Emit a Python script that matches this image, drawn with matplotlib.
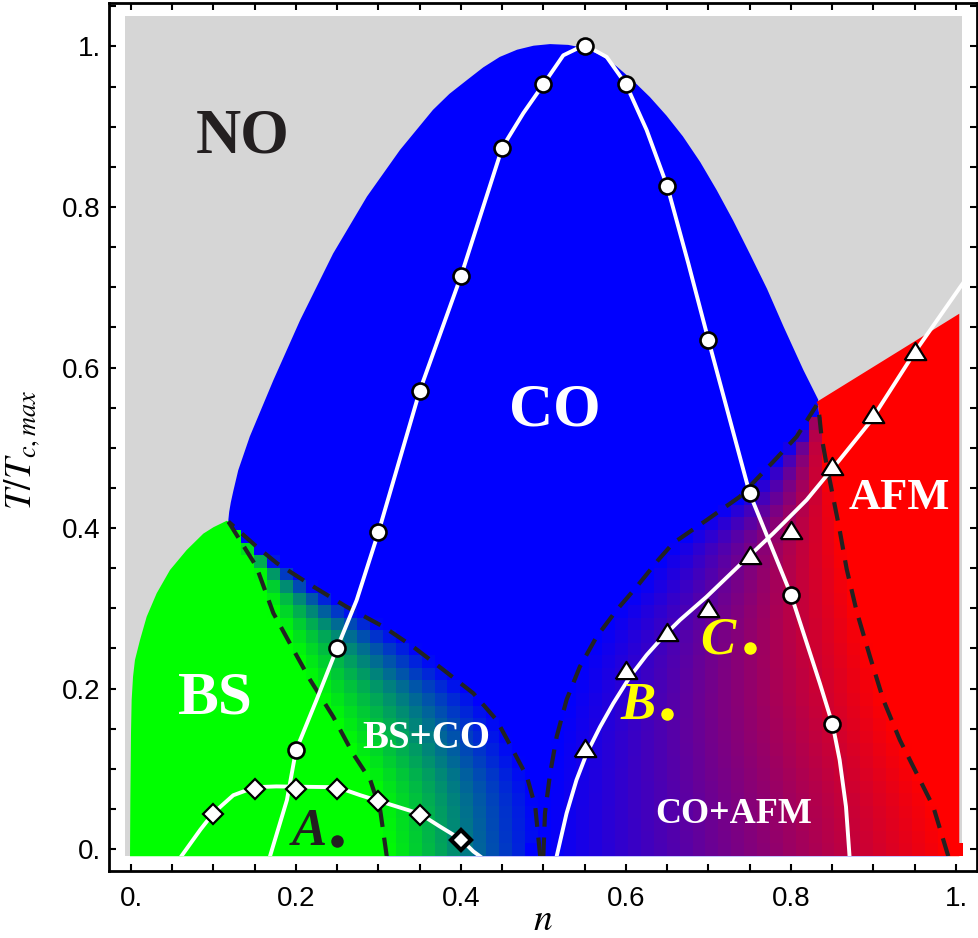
import numpy as np
import matplotlib
matplotlib.use('Agg')
import matplotlib.pyplot as plt
from matplotlib.patches import Rectangle, Polygon
from matplotlib.ticker import FixedLocator, MultipleLocator

plt.rcParams['mathtext.fontset'] = 'stix'

# ---- data: n (filling), T/Tc,max ----
# outer edge of the CO dome (left foot -> apex -> meets AFM)
dome_n = [0.118, 0.119, 0.121, 0.124, 0.13, 0.144, 0.1725, 0.205, 0.245, 0.286, 0.326, 0.366, 0.386, 0.407,
          0.427, 0.447, 0.468, 0.488, 0.508, 0.53, 0.55, 0.57, 0.589, 0.609, 0.629, 0.649, 0.669, 0.690,
          0.710, 0.730, 0.750, 0.771, 0.791, 0.815, 0.833]
dome_t = [0.41, 0.42, 0.432, 0.446, 0.472, 0.514, 0.584, 0.659, 0.742, 0.813, 0.871, 0.921, 0.941, 0.958,
          0.974, 0.987, 0.996, 1.001, 1.003, 1.002, 0.998, 0.989, 0.975, 0.957, 0.937, 0.914, 0.888, 0.856,
          0.821, 0.783, 0.742, 0.698, 0.651, 0.597, 0.560]

# left edge of the BS region
bs_edge_n = [-0.0012, -0.0008, 0.0, 0.0008, 0.0025, 0.0048, 0.0109, 0.019, 0.0311, 0.0473, 0.0675, 0.0877,
             0.10, 0.116]
bs_edge_t = [-0.009, 0.061, 0.144, 0.186, 0.215, 0.2355, 0.2604, 0.2895, 0.3186, 0.3477, 0.3726, 0.393,
             0.401, 0.409]

# top edge of AFM region
afm_top_n = [0.831, 1.004]
afm_top_t = [0.557, 0.667]

# dashed boundaries (ordered by rising T)
d1_n = [0.310, 0.302, 0.290, 0.269, 0.245, 0.217, 0.197, 0.1725, 0.152, 0.118]
d1_t = [-0.009, 0.049, 0.086, 0.119, 0.165, 0.211, 0.248, 0.294, 0.352, 0.408]
d2_n = [0.496, 0.490, 0.480, 0.463, 0.443, 0.415, 0.379, 0.342, 0.306, 0.261, 0.221, 0.177, 0.152, 0.118]
d2_t = [-0.009, 0.053, 0.090, 0.123, 0.161, 0.194, 0.223, 0.252, 0.277, 0.302, 0.327, 0.356, 0.377, 0.408]
d3_n = [0.4998, 0.5018, 0.508, 0.516, 0.528, 0.544, 0.5645, 0.5887, 0.613, 0.639, 0.657, 0.698, 0.738,
        0.7785, 0.807, 0.831]
d3_t = [-0.009, 0.0445, 0.094, 0.140, 0.186, 0.227, 0.2646, 0.2978, 0.3268, 0.360, 0.381, 0.410, 0.439,
        0.4826, 0.514, 0.553]
d4_n = [0.9907, 0.9725, 0.9523, 0.932, 0.912, 0.8958, 0.8797, 0.8675, 0.859, 0.851, 0.843, 0.837, 0.833]
d4_t = [-0.009, 0.0527, 0.0943, 0.1358, 0.1857, 0.2396, 0.2958, 0.349, 0.3975, 0.439, 0.48, 0.514, 0.553]

# CO transition (circles)
co_line_n = [0.1685, 0.189, 0.2, 0.225, 0.25, 0.2735, 0.3, 0.35, 0.4, 0.45, 0.4756, 0.5, 0.524, 0.55,
             0.5766, 0.6, 0.625, 0.65, 0.6755, 0.7, 0.75, 0.8, 0.835, 0.8505, 0.859, 0.8667, 0.871]
co_line_t = [-0.009, 0.061, 0.123, 0.186, 0.251, 0.310, 0.395, 0.571, 0.714, 0.874, 0.917, 0.953, 0.989, 1.002,
             0.987, 0.953, 0.896, 0.826, 0.730, 0.634, 0.443, 0.317, 0.2065, 0.155, 0.111, 0.0527, -0.009]
circ_n = [0.2, 0.25, 0.3, 0.35, 0.4, 0.45, 0.5, 0.55, 0.6, 0.65, 0.7, 0.75, 0.8, 0.85]
circ_t = [0.123, 0.251, 0.395, 0.571, 0.714, 0.874, 0.953, 1.0, 0.953, 0.826, 0.634, 0.443, 0.317, 0.156]

# BS transition (diamonds)
bs_line_n = [0.061, 0.084, 0.1, 0.124, 0.15, 0.176, 0.25, 0.278, 0.3, 0.35, 0.3745, 0.4, 0.415, 0.423]
bs_line_t = [-0.009, 0.024, 0.045, 0.067, 0.077, 0.078, 0.077, 0.067, 0.060, 0.044, 0.028, 0.012, -0.003, -0.009]
diam_n = [0.1, 0.15, 0.2, 0.25, 0.3, 0.35, 0.4]
diam_t = [0.044, 0.075, 0.075, 0.075, 0.060, 0.043, 0.011]

# AFM transition (triangles)
afm_line_n = [0.516, 0.528, 0.540, 0.5524, 0.5685, 0.5846, 0.6048, 0.625, 0.645, 0.6655, 0.6978, 0.738,
              0.7785, 0.819, 0.859, 0.8958, 0.95, 1.005, 1.012]
afm_line_t = [-0.009, 0.0445, 0.086, 0.119, 0.152, 0.1815, 0.2146, 0.2417, 0.2646, 0.2854, 0.3144, 0.354,
              0.3934, 0.435, 0.485, 0.532, 0.619, 0.700, 0.710]
tri_n = [0.55, 0.6, 0.65, 0.7, 0.75, 0.8, 0.85, 0.9, 0.95]
tri_t = [0.1255, 0.223, 0.270, 0.300, 0.366, 0.3975, 0.477, 0.542, 0.621]

# marked points A, B, C
pt_n = [0.25, 0.65, 0.75]
pt_t = [0.0104, 0.168, 0.2505]
pt_lab = ['A', 'B', 'C']
pt_lab_xy = [(0.216, 0.005), (0.6145, 0.162), (0.711, 0.244)]
pt_col = ['#231f20', '#ffff00', '#ffff00']

xticks = [0, 0.2, 0.4, 0.6, 0.8, 1.0]
xtick_labels = ['0.', '0.2', '0.4', '0.6', '0.8', '1.']
yticks = [0, 0.2, 0.4, 0.6, 0.8, 1.0]
ytick_labels = ['0.', '0.2', '0.4', '0.6', '0.8', '1.']

GREEN = (0, 1, 0)
BLUE = (0, 0, 1)
RED = (1, 0, 0)

fig = plt.figure(figsize=(9.79, 9.38), dpi=100)
ax = fig.add_axes([109 / 979, 67 / 938, 868 / 979, 868 / 938])
ax.set_xlim(-0.02667, 1.0255)
ax.set_ylim(-0.0274, 1.0542)

# plot region (NO phase)
x0, x1, y0, y1 = -0.0075, 1.0075, -0.009, 1.038
region = Rectangle((x0, y0), x1 - x0, y1 - y0, facecolor='#d6d6d6', edgecolor='none', zorder=0)
ax.add_patch(region)

# CO dome, down to the bottom
dome_poly = (list(zip(dome_n, dome_t)) + list(zip(d4_n[::-1], d4_t[::-1]))
             + list(zip(d1_n, d1_t)))
ax.add_patch(Polygon(dome_poly, closed=True, facecolor=BLUE, edgecolor='none', zorder=1))

# BS region
bs_poly = list(zip(bs_edge_n, bs_edge_t)) + list(zip(d1_n[::-1], d1_t[::-1]))
ax.add_patch(Polygon(bs_poly, closed=True, facecolor=GREEN, edgecolor='none', zorder=1.1))

# AFM region
afm_poly = list(zip(afm_top_n, afm_top_t)) + [(1.004, y0)] + list(zip(d4_n, d4_t))
ax.add_patch(Polygon(afm_poly, closed=True, facecolor=RED, edgecolor='none', zorder=1.2))

# coexistence regions, coarse raster like the original density plot
h = 1 / 64
xe = x0 + h * np.arange(66)
ye = y0 + h * np.arange(38)
X, Y = np.meshgrid((xe[:-1] + xe[1:]) / 2, (ye[:-1] + ye[1:]) / 2)
rgba = np.zeros(X.shape + (4,))

a = np.interp(Y, d1_t, d1_n)
b = np.interp(Y, d2_t, d2_n)
f = np.clip((X - a) / np.maximum(b - a, 1e-6), 0, 1)
m = (X > a - h) & (X < b + h) & (Y + h / 2 <= 0.405)
rgba[m] = np.stack([np.zeros_like(f), 1 - f, f, np.ones_like(f)], axis=-1)[m]

c = np.interp(Y, d3_t, d3_n)
d = np.interp(Y, d4_t, d4_n)
g = np.clip((X - c) / np.maximum(d - c, 1e-6), 0, 1)
m2 = (X > c - h) & (X < d + h) & (Y + h / 2 <= 0.553)
rgba[m2] = np.stack([g, np.zeros_like(g), 1 - g, np.ones_like(g)], axis=-1)[m2]

im = ax.imshow(rgba, origin='lower', extent=(xe[0], xe[-1], ye[0], ye[-1]),
               interpolation='nearest', aspect='auto', zorder=1.5)
im.set_clip_path(region)

# dashed boundaries
for dn, dt in [(d1_n, d1_t), (d2_n, d2_t), (d3_n, d3_t), (d4_n, d4_t)]:
    ln, = ax.plot(dn, dt, color='#222222', lw=3, ls=(0, (4.5, 2.6)), zorder=2)
    ln.set_clip_path(region)

# white transition lines
for ln_n, ln_t in [(co_line_n, co_line_t), (bs_line_n, bs_line_t), (afm_line_n, afm_line_t)]:
    ln, = ax.plot(ln_n, ln_t, color='white', lw=2.8, zorder=3, solid_joinstyle='round')
    ln.set_clip_path(region)

ax.plot(circ_n, circ_t, ls='none', marker='o', ms=11.5, mfc='white', mec='black', mew=1.9, zorder=4)
ax.plot(diam_n[:-1], diam_t[:-1], ls='none', marker='D', ms=10.5, mfc='white', mec='black', mew=1.6, zorder=4)
ax.plot(diam_n[-1:], diam_t[-1:], ls='none', marker='D', ms=10.5, mfc='white', mec='black', mew=3, zorder=4)
tri = [(-1, -0.8), (1, -0.8), (0, 0.8), (-1, -0.8)]
ax.plot(tri_n, tri_t, ls='none', marker=tri, ms=15.5, mfc='white', mec='black', mew=1.6, zorder=4)

# points A, B, C
for n_, t_, lab, (lx, ly), col in zip(pt_n, pt_t, pt_lab, pt_lab_xy, pt_col):
    ax.plot([n_], [t_], ls='none', marker='o', ms=9, mfc=col, mec='none', zorder=5)
    ax.text(lx, ly, lab, fontsize=38, fontweight='bold', fontstyle='italic', family='Liberation Serif',
            color=col, ha='center', va='baseline', zorder=5)

# phase labels
lab_kw = dict(family='Liberation Serif', fontweight='bold', ha='center', va='baseline', zorder=5)
ax.text(0.1358, 0.8685, 'NO', fontsize=45, color='#231f20', **lab_kw)
ax.text(0.514, 0.528, 'CO', fontsize=44, color='white', **lab_kw)
ax.text(0.1018, 0.169, 'BS', fontsize=44, color='white', **lab_kw)
ax.text(0.931, 0.424, 'AFM', fontsize=32, color='white', **lab_kw)
ax.text(0.358, 0.1254, 'BS+CO', fontsize=28, color='white', **lab_kw)
ax.text(0.731, 0.0324, 'CO+AFM', fontsize=26, color='white', **lab_kw)

# axis labels
ax.text(-0.1, 0.485, r'$T/T_{c,max}$', transform=ax.transAxes, rotation=90,
        ha='center', va='center', fontsize=27)
ax.text(0.5, -0.068, r'$n$', transform=ax.transAxes, ha='center', va='baseline', fontsize=27)

# frame and ticks
ax.xaxis.set_major_locator(FixedLocator(xticks))
ax.yaxis.set_major_locator(FixedLocator(yticks))
ax.xaxis.set_minor_locator(MultipleLocator(0.05))
ax.yaxis.set_minor_locator(MultipleLocator(0.05))
ax.set_xticklabels(xtick_labels, family='Liberation Sans', fontsize=20)
ax.set_yticklabels(ytick_labels, family='Liberation Sans', fontsize=20)
ax.tick_params(which='both', direction='in', top=True, right=True, length=5, width=1.5, color='black')
ax.tick_params(axis='x', which='major', pad=11)
ax.tick_params(axis='y', which='major', pad=6)
for s in ax.spines.values():
    s.set_linewidth(2)
ax.set_facecolor('white')

fig.savefig('out.png', dpi=100, facecolor='white')
